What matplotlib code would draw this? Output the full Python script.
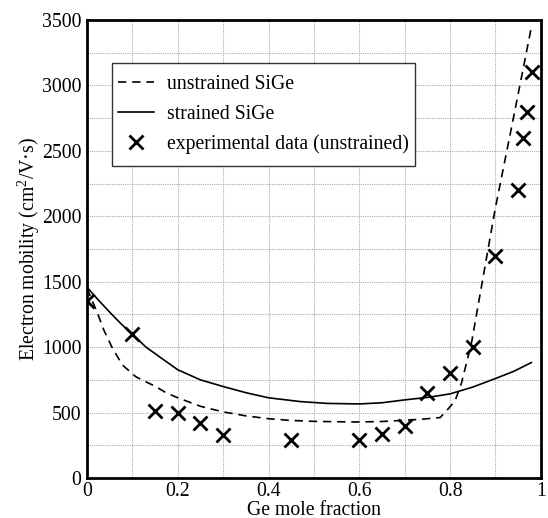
import matplotlib
matplotlib.use("Agg")
import matplotlib.pyplot as plt
from matplotlib.path import Path
import numpy as np

# Electron mobility vs Ge mole fraction in SiGe
x_unstrained = [0.0, 0.012, 0.023, 0.037, 0.056, 0.078, 0.107, 0.13, 0.151, 0.175, 0.2,
                0.25, 0.3, 0.35, 0.4, 0.45, 0.5, 0.55, 0.6, 0.65, 0.7, 0.74, 0.778,
                0.792, 0.811, 0.825, 0.847, 0.873, 0.899, 0.94, 0.9795]
mu_unstrained = [1450, 1350, 1260, 1131, 992, 864, 775, 735, 699, 650, 613,
                 548, 505, 475, 453, 440, 433, 430, 428, 432, 441, 450, 462,
                 513, 590, 725, 1030, 1540, 2050, 2760, 3453]

x_strained = [0.0, 0.025, 0.052, 0.075, 0.1, 0.13, 0.161, 0.2, 0.25, 0.3, 0.35, 0.4,
              0.47, 0.53, 0.6, 0.65, 0.7, 0.755, 0.8, 0.85, 0.902, 0.94, 0.979]
mu_strained = [1457, 1360, 1260, 1178, 1098, 1000, 923, 827, 750, 699, 652, 613,
               584, 570, 566, 575, 597, 618, 643, 695, 763, 815, 882]

x_exp = [0.0, 0.1, 0.15, 0.2, 0.25, 0.3, 0.45, 0.6, 0.65, 0.7, 0.75, 0.8, 0.85,
         0.9, 0.95, 0.96, 0.97, 0.98]
mu_exp = [1350, 1100, 510, 500, 420, 330, 290, 290, 340, 400, 650, 800, 1000,
          1700, 2200, 2600, 2800, 3100]

plt.rcParams["font.family"] = ["Liberation Serif", "DejaVu Serif"]
plt.rcParams["mathtext.fontset"] = "custom"
plt.rcParams["mathtext.rm"] = "Liberation Serif"

FS = 14.2

fig = plt.figure(figsize=(5.48, 5.18), dpi=100)
ax = fig.add_axes([0.1588, 0.0772, 0.8282, 0.8842])

ax.plot(x_unstrained, mu_unstrained, ls=(0, (5, 3.5)), color="black", lw=1.2,
        label="unstrained SiGe")
ax.plot(x_strained, mu_strained, ls="-", color="black", lw=1.2, label="strained SiGe")
ax.plot(x_exp, mu_exp, ls="none", marker="x", ms=9.5, mew=2, color="black",
        label="experimental data (unstrained)")

ax.set_xlim(0, 1)
ax.set_ylim(0, 3500)
ax.set_xticks([0, 0.2, 0.4, 0.6, 0.8, 1.0])
ax.set_xticklabels(["0", "0.2", "0.4", "0.6", "0.8", "1"])
ax.set_yticks(np.arange(0, 3501, 500))
ax.set_xticks(np.arange(0, 1.001, 0.1), minor=True)
ax.set_yticks(np.arange(0, 3501, 250), minor=True)
ax.grid(which="both", color="#aaaaaa", ls=(0, (1, 1)), lw=0.8)
ax.set_axisbelow(True)
ax.tick_params(which="both", length=0, labelsize=FS, pad=4)
ax.tick_params(axis="x", pad=2.8)

for s in ax.spines.values():
    s.set_linewidth(2.0)

ax.set_xlabel("Ge mole fraction", fontsize=FS, labelpad=0.3)
ax.set_ylabel("Electron mobility (cm$^2$/V·s)", fontsize=FS, labelpad=0)

leg = ax.legend(loc="upper left", bbox_to_anchor=(0.0412, 0.9055), borderaxespad=0,
                fontsize=FS, frameon=True, fancybox=False, edgecolor="#333333",
                framealpha=1, handlelength=1.83, handletextpad=0.68,
                borderpad=0.6, labelspacing=0.53)
leg.get_frame().set_linewidth(1.0)


def narrow_box(x0, y0, width, height, mutation_size):
    # frame with a tighter horizontal margin than the vertical one
    inset = 0.3 * mutation_size
    xa, xb = x0 + inset, x0 + width - inset
    ya, yb = y0, y0 + height
    return Path([(xa, ya), (xb, ya), (xb, yb), (xa, yb), (xa, ya)], closed=True)


leg.get_frame().set_boxstyle(narrow_box)

fig.savefig("out.png", dpi=100)
